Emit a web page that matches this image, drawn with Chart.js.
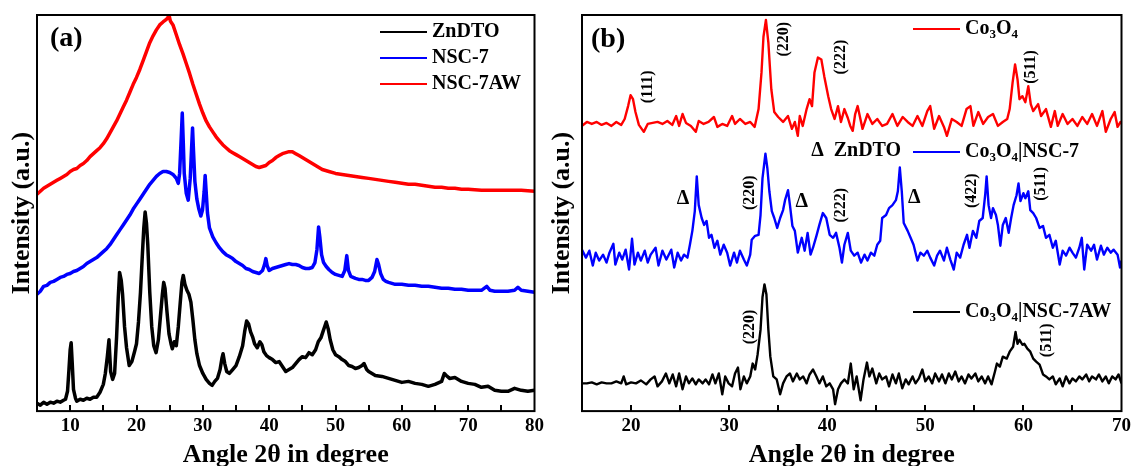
<!DOCTYPE html>
<html>
<head>
<meta charset="utf-8">
<script src="https://cdn.jsdelivr.net/npm/chart.js@4.4.1/dist/chart.umd.min.js"></script>
<style>
  html, body { margin: 0; padding: 0; background: #fff; }
  #wrap { position: relative; width: 1135px; height: 466px; overflow: hidden; background: #fff; }
  canvas { position: absolute; top: 0; }
  #cA { left: 0; }
  #cB { left: 548px; }
</style>
</head>
<body>
<div id="wrap">
  <canvas id="cA" width="548" height="466"></canvas>
  <canvas id="cB" width="587" height="466"></canvas>
</div>
<script>
// ---------- panel (a): diffraction patterns, [2θ, intensity] ----------
const zndtoA = [[5,8],[5.5,6],[6,9],[6.5,7],[7,9],[7.5,8],[8,10],[8.5,9],[9,11],[9.3,12],[9.6,20],[9.8,40],[10,62],[10.15,69],[10.3,50],[10.5,22],[10.8,13],[11,10],[11.5,12],[12,11],[12.5,13],[13,12],[13.5,14],[14,14],[14.5,19],[15,27],[15.3,38],[15.6,55],[15.85,72],[16.1,40],[16.4,32],[16.7,38],[17,75],[17.25,115],[17.45,140],[17.7,132],[17.9,118],[18.2,85],[18.5,64],[18.9,46],[19.3,50],[19.7,60],[20,68],[20.3,90],[20.6,120],[20.9,160],[21.1,185],[21.3,201],[21.5,190],[21.7,168],[22,120],[22.3,85],[22.6,66],[22.95,59],[23.3,72],[23.6,95],[23.9,118],[24.1,130],[24.3,124],[24.6,100],[24.9,78],[25.2,68],[25.4,63],[25.7,70],[26,66],[26.3,85],[26.6,110],[26.85,130],[27.05,137],[27.3,128],[27.6,122],[27.9,118],[28.2,110],[28.5,92],[28.8,72],[29.1,58],[29.5,46],[30,38],[30.5,32],[31,28],[31.4,26],[31.8,30],[32.2,33],[32.6,42],[32.9,54],[33.05,58],[33.3,48],[33.6,40],[34,38],[34.5,42],[35,46],[35.5,55],[36,66],[36.3,80],[36.6,91],[36.9,88],[37.2,80],[37.5,75],[37.8,68],[38.2,64],[38.6,70],[38.9,67],[39.2,60],[39.6,56],[40,54],[40.5,52],[41,49],[41.5,50],[42,45],[42.5,40],[43,42],[43.5,44],[44,48],[44.5,52],[45,55],[45.5,54],[46,59],[46.5,57],[47,62],[47.4,70],[47.8,74],[48.1,80],[48.4,86],[48.6,90],[48.9,83],[49.2,72],[49.6,62],[50,57],[50.5,55],[51,52],[51.5,50],[52,46],[52.5,45],[53,43],[53.5,44],[54,46],[54.3,48],[54.7,42],[55,40],[55.5,38],[56,36],[57,35],[58,33],[59,31],[60,29],[61,30],[62,28],[63,27],[64,25],[65,27],[66,30],[66.4,38],[66.7,36],[67.2,33],[68,34],[69,30],[70,28],[71,27],[72,24],[73,25],[74,21],[75,20],[76,20],[77,23],[78,21],[79,20],[80,21]];

const nsc7A = [[5,118],[5.5,121],[6,126],[6.5,127],[7,130],[7.5,131],[8,133],[8.5,135],[9,136],[9.5,138],[10,139],[10.5,141],[11,142],[11.5,144],[12,146],[12.5,149],[13,151],[13.5,153],[14,155],[14.5,158],[15,161],[15.5,164],[16,168],[16.5,173],[17,178],[17.5,183],[18,188],[18.5,193],[19,198],[19.5,204],[20,209],[20.5,214],[21,219],[21.5,224],[22,229],[22.5,233],[23,237],[23.5,240],[24,242],[24.5,242],[25,241],[25.5,239],[26,235],[26.3,230],[26.5,240],[26.7,270],[26.9,301],[27.05,272],[27.2,240],[27.5,220],[27.8,213],[28.1,235],[28.3,265],[28.45,286],[28.6,262],[28.8,232],[29.1,214],[29.4,204],[29.7,197],[29.95,203],[30.2,222],[30.35,238],[30.5,222],[30.7,200],[31,185],[31.5,176],[32,170],[32.5,165],[33,161],[33.5,158],[34,156],[34.5,154],[35,151],[35.5,149],[36,147],[36.5,144],[37,143],[37.5,141],[38,140],[38.5,139],[39,142],[39.3,148],[39.5,154],[39.7,147],[40,142],[40.5,144],[41,145],[41.5,146],[42,147],[42.5,148],[43,149],[43.5,148],[44,148],[44.5,147],[45,145],[45.5,144],[46,144],[46.5,145],[46.9,150],[47.2,163],[47.45,186],[47.65,175],[47.9,158],[48.2,150],[48.6,146],[49,143],[49.5,140],[50,138],[50.5,137],[51,136],[51.4,142],[51.7,157],[51.95,142],[52.3,136],[53,134],[53.5,133],[54,133],[54.5,132],[55,132],[55.5,135],[55.9,141],[56.25,153],[56.5,148],[56.8,139],[57.2,133],[57.6,131],[58,130],[59,128],[60,128],[61,127],[62,127],[63,126],[64,126],[65,125],[66,124],[67,124],[68,123],[69,123],[70,122],[71,122],[72,122],[72.8,126],[73.3,122],[74,121],[75,121],[76,121],[77,122],[77.5,125],[78,122],[79,121],[80,120]];

const nsc7awA = [[5,219],[5.5,222],[6,225],[6.5,227],[7,229],[7.5,231],[8,233],[8.5,235],[9,237],[9.5,239],[10,242],[10.5,244],[11,245],[11.5,248],[12,250],[12.5,253],[13,257],[13.5,260],[14,263],[14.5,266],[15,270],[15.5,275],[16,281],[16.5,287],[17,293],[17.5,300],[18,307],[18.5,314],[19,322],[19.5,330],[20,337],[20.5,345],[21,354],[21.5,363],[22,372],[22.5,379],[23,385],[23.5,390],[24,393],[24.4,395],[24.7,397],[24.9,400],[25.1,394],[25.5,390],[26,380],[26.5,370],[27,361],[27.5,351],[28,341],[28.5,330],[29,320],[29.5,310],[30,301],[30.5,293],[31,287],[31.5,282],[32,277],[32.5,273],[33,269],[33.5,266],[34,263],[34.5,261],[35,259],[35.5,257],[36,255],[36.5,253],[37,251],[37.5,249],[38,247],[38.5,246],[39,247],[39.5,248],[40,251],[40.5,253],[41,256],[41.5,258],[42,260],[42.5,261],[43,262],[43.5,262],[44,260],[44.5,258],[45,256],[45.5,254],[46,252],[46.5,250],[47,248],[47.5,246],[48,244],[48.5,243],[49,242],[50,240],[51,239],[52,238],[53,237],[54,236],[55,235],[56,234],[57,233],[58,232],[59,231],[60,230],[61,229],[62,229],[63,228],[64,227],[65,226],[66,226],[67,225],[68,225],[69,224],[70,224],[72,223],[74,223],[76,223],[78,223],[80,222]];

const ticksA = [10, 20, 30, 40, 50, 60, 70, 80];
const marksA = [10, 15, 20, 25, 30, 35, 40, 45, 50, 55, 60, 65, 70, 75];

// ---------- panel (b): Co3O4 composites, [2θ, intensity] ----------
const co3o4B = [[15,288],[15.5,292],[16,290],[16.5,292],[17,289],[17.5,291],[18,288],[18.5,292],[19,289],[19.35,295],[19.7,308],[19.95,319],[20.2,315],[20.45,302],[20.8,289],[21.3,282],[21.7,290],[22.2,291],[22.7,292],[23.2,290],[23.7,293],[24.2,289],[24.6,298],[24.9,288],[25.25,300],[25.6,291],[26.1,288],[26.6,282],[26.9,293],[27.4,290],[27.9,292],[28.45,297],[28.8,287],[29.3,290],[29.8,288],[30.3,298],[30.6,290],[31.1,295],[31.65,290],[32.15,292],[32.6,287],[33,305],[33.3,342],[33.5,378],[33.75,395],[34,372],[34.3,325],[34.6,302],[35,297],[35.5,292],[36,298],[36.4,285],[36.7,292],[37,278],[37.2,298],[37.5,288],[37.9,305],[38.2,315],[38.45,308],[38.7,342],[39.05,357],[39.4,355],[39.7,338],[40.1,318],[40.4,305],[40.75,295],[41.1,308],[41.4,292],[41.75,305],[42.1,296],[42.35,288],[42.6,283],[42.85,300],[43.1,308],[43.6,285],[44.1,300],[44.6,290],[45.1,295],[45.6,288],[46.1,290],[46.65,300],[47.15,288],[47.7,297],[48.2,292],[48.7,288],[49.2,298],[49.7,288],[50.2,303],[50.5,308],[50.9,285],[51.4,298],[51.9,287],[52.2,278],[52.7,295],[53.2,292],[53.7,288],[54.2,305],[54.6,308],[54.9,288],[55.4,302],[55.9,290],[56.4,297],[56.9,300],[57.4,288],[57.9,292],[58.35,295],[58.6,305],[58.9,332],[59.15,350],[59.4,335],[59.6,315],[59.9,318],[60.2,312],[60.5,328],[60.75,310],[61,303],[61.5,310],[61.8,298],[62.3,305],[62.8,287],[63.2,303],[63.5,288],[64,300],[64.5,290],[65,295],[65.5,288],[66,297],[66.5,290],[67,300],[67.5,288],[68.05,303],[68.4,282],[68.9,295],[69.3,302],[69.6,287],[69.9,292],[70,290]];

const co3o4Nsc7B = [[15,163],[15.4,155],[15.75,162],[16.1,147],[16.4,160],[16.75,152],[17.15,158],[17.5,150],[17.8,160],[18.2,169],[18.4,148],[18.8,160],[19.1,153],[19.45,163],[19.8,143],[20.1,174],[20.35,148],[20.7,160],[21,152],[21.4,162],[21.7,150],[22,158],[22.5,165],[22.8,147],[23.2,162],[23.6,153],[24.1,163],[24.4,145],[24.75,160],[25.1,152],[25.4,158],[25.75,155],[26,168],[26.25,182],[26.5,202],[26.7,237],[26.9,208],[27.2,195],[27.45,188],[27.7,192],[27.95,175],[28.2,178],[28.5,165],[28.8,172],[29.1,158],[29.45,168],[29.8,160],[30.1,147],[30.5,160],[30.8,150],[31.1,162],[31.5,153],[31.8,147],[32.15,158],[32.3,173],[32.65,177],[33,178],[33.2,198],[33.4,235],[33.7,260],[33.9,245],[34.1,222],[34.35,202],[34.6,195],[34.9,185],[35.2,195],[35.5,203],[35.7,213],[36,223],[36.2,208],[36.45,187],[36.7,182],[37,160],[37.4,175],[37.7,162],[38,180],[38.3,158],[38.55,165],[38.9,177],[39.2,188],[39.55,200],[39.9,195],[40.25,178],[40.6,175],[40.9,180],[41.25,165],[41.5,150],[41.75,168],[42.1,180],[42.4,162],[42.75,157],[43.1,160],[43.45,150],[43.8,158],[44.1,152],[44.45,160],[44.8,157],[45.1,168],[45.4,172],[45.6,195],[46,198],[46.3,205],[46.65,208],[47,213],[47.2,222],[47.4,246],[47.6,222],[47.8,190],[48.2,182],[48.5,175],[48.8,168],[49.2,152],[49.5,160],[49.85,157],[50.2,162],[50.5,155],[50.9,147],[51.2,157],[51.5,162],[51.9,152],[52.2,165],[52.55,153],[52.9,143],[53.2,160],[53.55,155],[53.9,168],[54.25,178],[54.5,165],[54.85,182],[55.2,175],[55.5,192],[55.85,195],[56.1,218],[56.25,237],[56.45,208],[56.7,195],[56.9,205],[57.2,198],[57.4,188],[57.65,167],[57.9,188],[58.2,195],[58.5,180],[58.75,195],[59,208],[59.3,218],[59.5,230],[59.7,212],[60,220],[60.2,215],[60.5,222],[60.7,203],[61,200],[61.3,195],[61.65,185],[62,187],[62.3,175],[62.65,178],[63,165],[63.3,172],[63.7,148],[64,162],[64.35,157],[64.7,165],[65,160],[65.35,155],[65.7,165],[65.95,175],[66.2,143],[66.5,168],[66.9,162],[67.2,168],[67.5,153],[67.9,167],[68.2,158],[68.55,165],[68.9,160],[69.2,163],[69.6,158],[69.85,145],[70,152]];

const co3o4Nsc7awB = [[15,28],[15.5,28],[16,29],[16.5,27],[17,29],[17.5,28],[18,28],[18.5,30],[19,28],[19.25,35],[19.5,27],[20,29],[20.5,28],[21,31],[21.55,27],[22,32],[22.4,35],[22.7,25],[23.15,30],[23.55,38],[23.9,28],[24.25,37],[24.6,25],[24.9,38],[25.25,22],[25.6,35],[25.9,28],[26.25,33],[26.6,27],[26.9,32],[27.3,28],[27.6,32],[27.95,27],[28.3,37],[28.6,28],[28.95,38],[29.3,17],[29.6,35],[29.95,28],[30.3,25],[30.6,38],[30.9,44],[31.15,22],[31.5,35],[31.8,28],[32.15,35],[32.4,48],[32.65,42],[32.9,57],[33.2,82],[33.4,115],[33.6,128],[33.8,118],[34,82],[34.2,55],[34.5,35],[34.85,32],[35.2,17],[35.5,28],[35.85,35],[36.2,38],[36.5,30],[36.9,38],[37.2,32],[37.55,35],[37.9,28],[38.2,37],[38.55,42],[38.9,35],[39.2,28],[39.55,35],[39.9,25],[40.25,28],[40.6,22],[40.8,7],[41.1,22],[41.4,28],[41.75,32],[42.1,28],[42.4,48],[42.7,22],[43,35],[43.4,11],[43.7,32],[44.05,49],[44.3,35],[44.6,43],[45,28],[45.3,38],[45.6,32],[46,35],[46.3,25],[46.65,37],[47,28],[47.3,38],[47.65,23],[48,32],[48.3,27],[48.7,35],[49,28],[49.35,33],[49.7,42],[50,30],[50.35,35],[50.7,28],[51,38],[51.4,30],[51.7,37],[52.05,28],[52.4,38],[52.7,32],[53.05,40],[53.4,30],[53.7,35],[54.05,28],[54.4,37],[54.7,33],[55.1,38],[55.4,30],[55.75,35],[56.1,28],[56.4,35],[56.75,27],[57.1,40],[57.3,48],[57.6,45],[57.9,55],[58.3,53],[58.6,60],[58.95,65],[59.2,80],[59.4,68],[59.6,72],[59.9,67],[60.1,68],[60.4,63],[60.7,60],[61,53],[61.3,50],[61.65,47],[62,37],[62.3,35],[62.65,32],[63,35],[63.3,27],[63.7,33],[64,25],[64.35,35],[64.7,28],[65,33],[65.35,30],[65.7,35],[66,32],[66.4,37],[66.7,30],[67,35],[67.4,32],[67.7,37],[68.05,30],[68.4,35],[68.7,28],[69.05,35],[69.4,32],[69.7,37],[70,28]];

const ticksB = [20, 30, 40, 50, 60, 70];
const marksB = [20, 25, 30, 35, 40, 45, 50, 55, 60, 65];

// reflection labels for panel (b): [2θ, intensity, text]
const hklB = [[21.72,327.5,'(111)'],[35.53,375.5,'(220)'],[41.44,357.5,'(222)'],[60.75,347.5,'(511)'],
              [32.14,220.5,'(220)'],[41.44,208,'(222)'],[54.74,222.5,'(422)'],[61.8,229.5,'(511)'],
              [32.09,85,'(220)'],[62.4,71.5,'(511)']];
// ZnDTO reflections marked with Δ: [2θ, intensity]
const deltaB = [[25.31,214],[37.4,211],[48.87,215]];

const SERIF = '"Liberation Serif", "Times New Roman", serif';
const pts = arr => arr.map(([x, y]) => ({ x, y }));

// draws text, turning ₀–₉ into small lowered digits
function drawRich(ctx, text, x, y, size) {
  const subs = '₀₁₂₃₄₅₆₇₈₉';
  let cx = x, run = '';
  const flush = () => {
    if (!run) return;
    ctx.font = `bold ${size}px ${SERIF}`;
    ctx.fillText(run, cx, y);
    cx += ctx.measureText(run).width;
    run = '';
  };
  for (const ch of text) {
    const d = subs.indexOf(ch);
    if (d >= 0) {
      flush();
      const s = Math.round(size * 0.65);
      ctx.font = `bold ${s}px ${SERIF}`;
      ctx.fillText(String(d), cx, y + size * 0.3);
      cx += ctx.measureText(String(d)).width;
    } else run += ch;
  }
  flush();
}

const decor = {
  id: 'decor',
  afterDatasetsDraw(chart, args, o) {
    const { ctx, chartArea: a, scales: { x, y } } = chart;
    ctx.save();
    ctx.strokeStyle = '#000';
    ctx.fillStyle = '#000';
    ctx.lineWidth = 2;
    // inward tick marks along the bottom edge
    ctx.beginPath();
    o.marks.forEach(v => {
      const px = Math.round(x.getPixelForValue(v));
      ctx.moveTo(px, a.bottom);
      ctx.lineTo(px, a.bottom - 6);
    });
    ctx.stroke();
    // frame
    ctx.strokeRect(a.left, a.top, a.right - a.left, a.bottom - a.top);
    // panel letter
    ctx.textBaseline = 'middle';
    ctx.textAlign = 'left';
    ctx.font = `bold 28px ${SERIF}`;
    ctx.fillText(o.panel, a.left + o.panelAt[0], a.top + o.panelAt[1]);
    // legend entries
    o.legend.forEach(it => {
      const ds = chart.data.datasets[it.index];
      ctx.strokeStyle = ds.borderColor;
      ctx.lineWidth = 2;
      ctx.beginPath();
      ctx.moveTo(it.x, it.y);
      ctx.lineTo(it.x + 47, it.y);
      ctx.stroke();
      ctx.fillStyle = '#000';
      ctx.textAlign = 'left';
      drawRich(ctx, ds.label, it.x + 52, it.y, 20);
    });
    // text notes placed in data coordinates
    (o.notes || []).forEach(n => {
      ctx.save();
      ctx.translate(x.getPixelForValue(n.x), y.getPixelForValue(n.y));
      if (n.rotate) ctx.rotate(-Math.PI / 2);
      ctx.font = `bold ${n.size}px ${SERIF}`;
      ctx.textAlign = n.align || 'center';
      ctx.textBaseline = 'middle';
      ctx.fillStyle = '#000';
      ctx.fillText(n.text, 0, 0);
      ctx.restore();
    });
    ctx.restore();
  }
};

function line(label, data, color, width) {
  return {
    label, data: pts(data), borderColor: color, backgroundColor: color,
    borderWidth: width, pointRadius: 0, tension: 0, fill: false,
    borderJoinStyle: 'round'
  };
}

function options(xmin, xmax, ticks, yTitlePad, layoutLeft, layoutRight, decorOpts) {
  return {
    responsive: false,
    animation: false,
    layout: { padding: { left: layoutLeft, right: layoutRight, top: 15, bottom: 0 } },
    plugins: { legend: { display: false }, tooltip: { enabled: false }, decor: decorOpts },
    scales: {
      x: {
        type: 'linear', min: xmin, max: xmax,
        afterBuildTicks: s => { s.ticks = ticks.map(v => ({ value: v })); },
        grid: { display: false, drawTicks: false },
        border: { display: false },
        ticks: { color: '#000', padding: 4, font: { family: SERIF, size: 19, weight: 'bold' } },
        title: {
          display: true, text: 'Angle 2θ in degree', color: '#000',
          padding: { top: 2, bottom: 0 },
          font: { family: SERIF, size: 26, weight: 'bold', lineHeight: 0.85 }
        }
      },
      y: {
        min: 0, max: 400,
        grid: { display: false, drawTicks: false },
        border: { display: false },
        ticks: { display: false },
        title: {
          display: true, text: 'Intensity (a.u.)', color: '#000',
          padding: yTitlePad,
          font: { family: SERIF, size: 26, weight: 'bold', lineHeight: 1.0 }
        }
      }
    }
  };
}

new Chart(document.getElementById('cA'), {
  type: 'line',
  data: {
    datasets: [
      line('ZnDTO', zndtoA, '#000000', 3.5),
      line('NSC-7', nsc7A, '#0000ff', 3.5),
      line('NSC-7AW', nsc7awA, '#ff0000', 3.5)
    ]
  },
  options: options(5, 80, ticksA, { top: 0, bottom: 2 }, 9, 10, {
    panel: '(a)', panelAt: [13, 24], marks: marksA,
    legend: [{ index: 0, x: 380, y: 32 }, { index: 1, x: 380, y: 58 }, { index: 2, x: 380, y: 84 }],
    notes: []
  }),
  plugins: [decor]
});

const notesB = hklB.map(([x, y, text]) => ({ x, y, text, rotate: true, size: 16 }))
  .concat(deltaB.map(([x, y]) => ({ x, y, text: 'Δ', size: 20 })))
  .concat([{ x: 38.36, y: 263, text: 'Δ  ZnDTO', size: 20, align: 'left' }]);

new Chart(document.getElementById('cB'), {
  type: 'line',
  data: {
    datasets: [
      line('Co₃O₄', co3o4B, '#ff0000', 2.4),
      line('Co₃O₄|NSC-7', co3o4Nsc7B, '#0000ff', 2.4),
      line('Co₃O₄|NSC-7AW', co3o4Nsc7awB, '#000000', 2.4)
    ]
  },
  options: options(15, 70, ticksB, { top: 0, bottom: 7 }, 1, 9, {
    panel: '(b)', panelAt: [9, 25], marks: marksB,
    legend: [{ index: 0, x: 365, y: 29 }, { index: 1, x: 365, y: 152 }, { index: 2, x: 365, y: 312 }],
    notes: notesB
  }),
  plugins: [decor]
});
</script>
</body>
</html>
